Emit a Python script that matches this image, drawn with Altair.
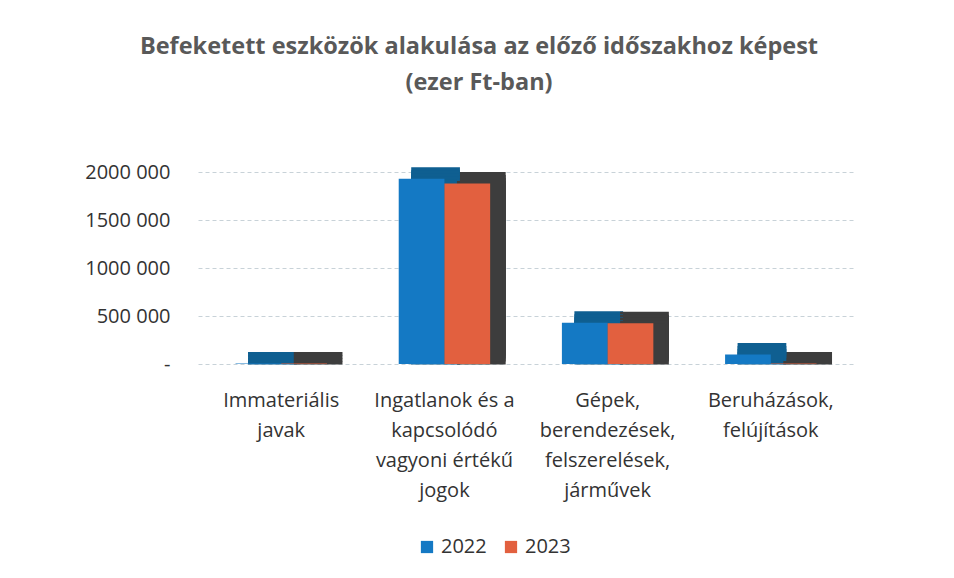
import altair as alt
import pandas as pd

categories = [
    "Immateriális|javak",
    "Ingatlanok és a|kapcsolódó|vagyoni értékű|jogok",
    "Gépek,|berendezések,|felszerelések,|járművek",
    "Beruházások,|felújítások",
]
years = ["2022", "2023"]
values_2022 = [6000, 1930000, 430000, 100000]
values_2023 = [4000, 1880000, 425000, 4000]

rows = []
for c, v1, v2 in zip(categories, values_2022, values_2023):
    rows.append({"cat": c, "year": "2022", "value": v1})
    rows.append({"cat": c, "year": "2023", "value": v2})
df = pd.DataFrame(rows)

colors = ["#1479C4", "#E2603F"]
depth_colors = ["#0F5F91", "#3D3D3D"]
FONT = "Open Sans"
STEP = 163.3
PI = 0.44
BW = (1 - PI) * STEP
SHIFT = 14

x_enc = alt.X("cat:N", sort=categories, title=None,
              scale=alt.Scale(paddingInner=PI, paddingOuter=0.23),
              axis=alt.Axis(labelExpr="split(datum.label, '|')", labelAngle=0,
                            labelFontSize=20, labelColor="#333333", labelLineHeight=30,
                            labelPadding=26, domain=False, ticks=False,
                            labelFont=FONT))
y_enc = alt.Y("value:Q", title=None,
              scale=alt.Scale(domain=[0, 2000000]),
              axis=alt.Axis(values=[0, 500000, 1000000, 1500000, 2000000],
                            labelExpr="datum.value == 0 ? '-' : floor(datum.value/1000) + ' 000'",
                            labelFontSize=20, labelColor="#333333", labelPadding=28,
                            domain=False, ticks=False, gridDash=[4, 3],
                            gridColor="#c8d2d8", labelFont=FONT))


def depth_layer(dy):
    return alt.Chart(df).mark_bar(yOffset=dy, strokeWidth=3).encode(
        x=x_enc,
        xOffset=alt.XOffset("year:N", sort=years,
                            scale=alt.Scale(range=[SHIFT, SHIFT + BW])),
        y=y_enc,
        color=alt.Color("year:N", sort=years,
                        scale=alt.Scale(domain=years, range=depth_colors), legend=None),
        stroke=alt.Stroke("year:N", sort=years,
                          scale=alt.Scale(domain=years, range=depth_colors), legend=None),
    )


depth_layers = [depth_layer(dy) for dy in (-10, -7, -4, -1)]

front = alt.Chart(df).mark_bar().encode(
    x=x_enc,
    xOffset=alt.XOffset("year:N", sort=years, scale=alt.Scale(range=[0, BW])),
    y=y_enc,
    color=alt.Color("year:N", sort=years, scale=alt.Scale(domain=years, range=colors),
                    legend=alt.Legend(title=None, orient="none", legendX=219, legendY=365,
                                      direction="horizontal", symbolType="square",
                                      symbolSize=150, labelFontSize=20, labelColor="#333333",
                                      labelFont=FONT, columnPadding=14)),
)

chart = alt.layer(*depth_layers, front).resolve_scale(
    color="independent", xOffset="independent"
).properties(
    width=656, height=192,
    padding={"left": 76, "top": 26, "right": 5, "bottom": 5},
    title=alt.TitleParams(
        ["Befeketett eszközök alakulása az előző időszakhoz képest", "(ezer Ft-ban)"],
        fontSize=23.5, font=FONT, fontWeight="bold", color="#595959",
        lineHeight=36, offset=68, anchor="middle", frame="group", dx=-47),
).configure_view(stroke=None)

chart.save("out.html", embed_options={"renderer": "svg", "actions": False})
